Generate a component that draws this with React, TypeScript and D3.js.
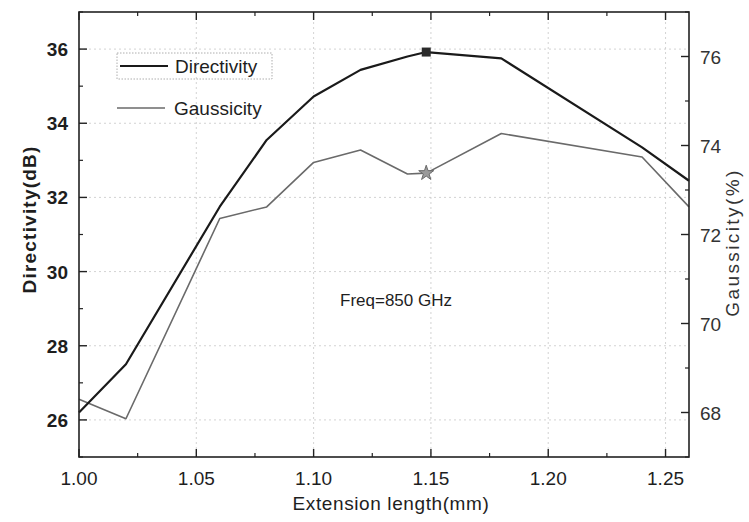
import React from "react";
import * as d3 from "d3";

const extension = [1.0, 1.02, 1.06, 1.08, 1.1, 1.12, 1.14, 1.148, 1.18, 1.24, 1.26];
const directivity = [26.2, 27.5, 31.75, 33.55, 34.72, 35.44, 35.8, 35.92, 35.75, 33.35, 32.45];
const gaussicity = [68.3, 67.86, 72.36, 72.62, 73.62, 73.9, 73.36, 73.38, 74.27, 73.74, 72.62];
const xTicks = [1.0, 1.05, 1.1, 1.15, 1.2, 1.25];
const leftTicks = [26, 28, 30, 32, 34, 36];
const rightTicks = [68, 70, 72, 74, 76];
const markerIndex = 7;

const W = 749;
const H = 522;
const L = 79, R = 689, T = 12, B = 457;
const FONT = "'Liberation Sans', Arial, sans-serif";
const TXT = "#1e1e1e";

export default function App() {
  const x = d3.scaleLinear().domain([1.0, 1.26]).range([L, R]);
  const yL = d3.scaleLinear().domain([25, 37]).range([B, T]);
  const yR = d3.scaleLinear().domain([67, 77]).range([B, T]);

  const dLine = d3.line<number>().x((_, i) => x(extension[i])).y((v) => yL(v));
  const gLine = d3.line<number>().x((_, i) => x(extension[i])).y((v) => yR(v));

  const xMinor = d3.range(1.025, 1.26, 0.05);
  const leftMinor = d3.range(25, 37.01, 1).filter((v) => v % 2 === 1);
  const rightMinor = d3.range(67, 77.01, 1).filter((v) => v % 2 === 1);

  const MAJ = 8, MIN = 4;

  const sq = 9;
  const mx = x(extension[markerIndex]);
  const myD = yL(directivity[markerIndex]);
  const myG = yR(gaussicity[markerIndex]);
  const star = d3.symbol().type(d3.symbolStar).size(70)();

  return (
    <svg width={W} height={H} style={{ position: "absolute", left: 0, top: 0, background: "#fff" }}>
      <rect x={0} y={0} width={W} height={H} fill="#fff" />
      {/* grid */}
      {leftTicks.map((t) => (
        <line key={"gh" + t} x1={L} x2={R} y1={yL(t)} y2={yL(t)} stroke="#c8c8c8" strokeWidth={0.8} strokeDasharray="2,3" />
      ))}
      {xTicks.slice(1).map((t) => (
        <line key={"gv" + t} x1={x(t)} x2={x(t)} y1={T} y2={B} stroke="#c8c8c8" strokeWidth={0.8} strokeDasharray="2,3" />
      ))}

      {/* lines */}
      <path d={gLine(gaussicity) || ""} fill="none" stroke="#6a6a6a" strokeWidth={1.6} strokeLinejoin="round" />
      <path d={dLine(directivity) || ""} fill="none" stroke="#1a1a1a" strokeWidth={2.2} strokeLinejoin="round" />
      <rect x={mx - sq / 2} y={myD - sq / 2} width={sq} height={sq} fill="#2a2a2a" />
      <path d={star || ""} transform={`translate(${mx},${myG})`} fill="#9a9a9a" stroke="#6a6a6a" strokeWidth={1} />

      {/* frame */}
      <rect x={L} y={T} width={R - L} height={B - T} fill="none" stroke="#222" strokeWidth={1.6} />

      {/* x ticks */}
      {xTicks.map((t) => (
        <g key={"xt" + t}>
          <line x1={x(t)} x2={x(t)} y1={B} y2={B - MAJ} stroke="#222" strokeWidth={1.4} />
          <line x1={x(t)} x2={x(t)} y1={T} y2={T + MAJ} stroke="#222" strokeWidth={1.4} />
          <text x={x(t)} y={B + 28} textAnchor="middle" fontFamily={FONT} fontSize={19} fill={TXT}>
            {t.toFixed(2)}
          </text>
        </g>
      ))}
      {xMinor.map((t) => (
        <g key={"xm" + t}>
          <line x1={x(t)} x2={x(t)} y1={B} y2={B - MIN} stroke="#222" strokeWidth={1.2} />
          <line x1={x(t)} x2={x(t)} y1={T} y2={T + MIN} stroke="#222" strokeWidth={1.2} />
        </g>
      ))}

      {/* left ticks */}
      {leftTicks.map((t) => (
        <g key={"lt" + t}>
          <line x1={L} x2={L + MAJ} y1={yL(t)} y2={yL(t)} stroke="#222" strokeWidth={1.4} />
          <text x={L - 11} y={yL(t) + 7} textAnchor="end" fontFamily={FONT} fontSize={19} fontWeight="bold" fill={TXT}>
            {t}
          </text>
        </g>
      ))}
      {leftMinor.map((t) => (
        <line key={"lm" + t} x1={L} x2={L + MIN} y1={yL(t)} y2={yL(t)} stroke="#222" strokeWidth={1.2} />
      ))}

      {/* right ticks */}
      {rightTicks.map((t) => (
        <g key={"rt" + t}>
          <line x1={R} x2={R - MAJ} y1={yR(t)} y2={yR(t)} stroke="#222" strokeWidth={1.4} />
          <text x={R + 11} y={yR(t) + 7} textAnchor="start" fontFamily={FONT} fontSize={19} fill="#333">
            {t}
          </text>
        </g>
      ))}
      {rightMinor.map((t) => (
        <line key={"rm" + t} x1={R} x2={R - MIN} y1={yR(t)} y2={yR(t)} stroke="#222" strokeWidth={1.2} />
      ))}

      {/* axis titles */}
      <text x={(L + R) / 2 + 7} y={510} textAnchor="middle" fontFamily={FONT} fontSize={19} letterSpacing={0.6} fill={TXT}>
        Extension length(mm)
      </text>
      <text transform={`translate(36,${(T + B) / 2 - 15}) rotate(-90)`} textAnchor="middle" fontFamily={FONT} fontSize={19} fontWeight="bold" letterSpacing={1.2} fill={TXT}>
        Directivity(dB)
      </text>
      <text transform={`translate(739,${(T + B) / 2 + 8}) rotate(-90)`} textAnchor="middle" fontFamily={FONT} fontSize={19} letterSpacing={2.4} fill="#333">
        Gaussicity(%)
      </text>

      {/* annotation */}
      <text x={340} y={306} fontFamily={FONT} fontSize={17} fill={TXT}>
        Freq=850 GHz
      </text>

      {/* legend */}
      <rect x={117} y={53} width={155} height={26} fill="none" stroke="#999" strokeWidth={0.8} strokeDasharray="1.5,1.5" />
      <line x1={120} x2={168} y1={66} y2={66} stroke="#1a1a1a" strokeWidth={2} />
      <text x={175} y={73} fontFamily={FONT} fontSize={19} fill={TXT}>
        Directivity
      </text>
      <line x1={117} x2={165} y1={108} y2={108} stroke="#6a6a6a" strokeWidth={1.6} />
      <text x={174} y={115} fontFamily={FONT} fontSize={19} fill={TXT}>
        Gaussicity
      </text>
    </svg>
  );
}
